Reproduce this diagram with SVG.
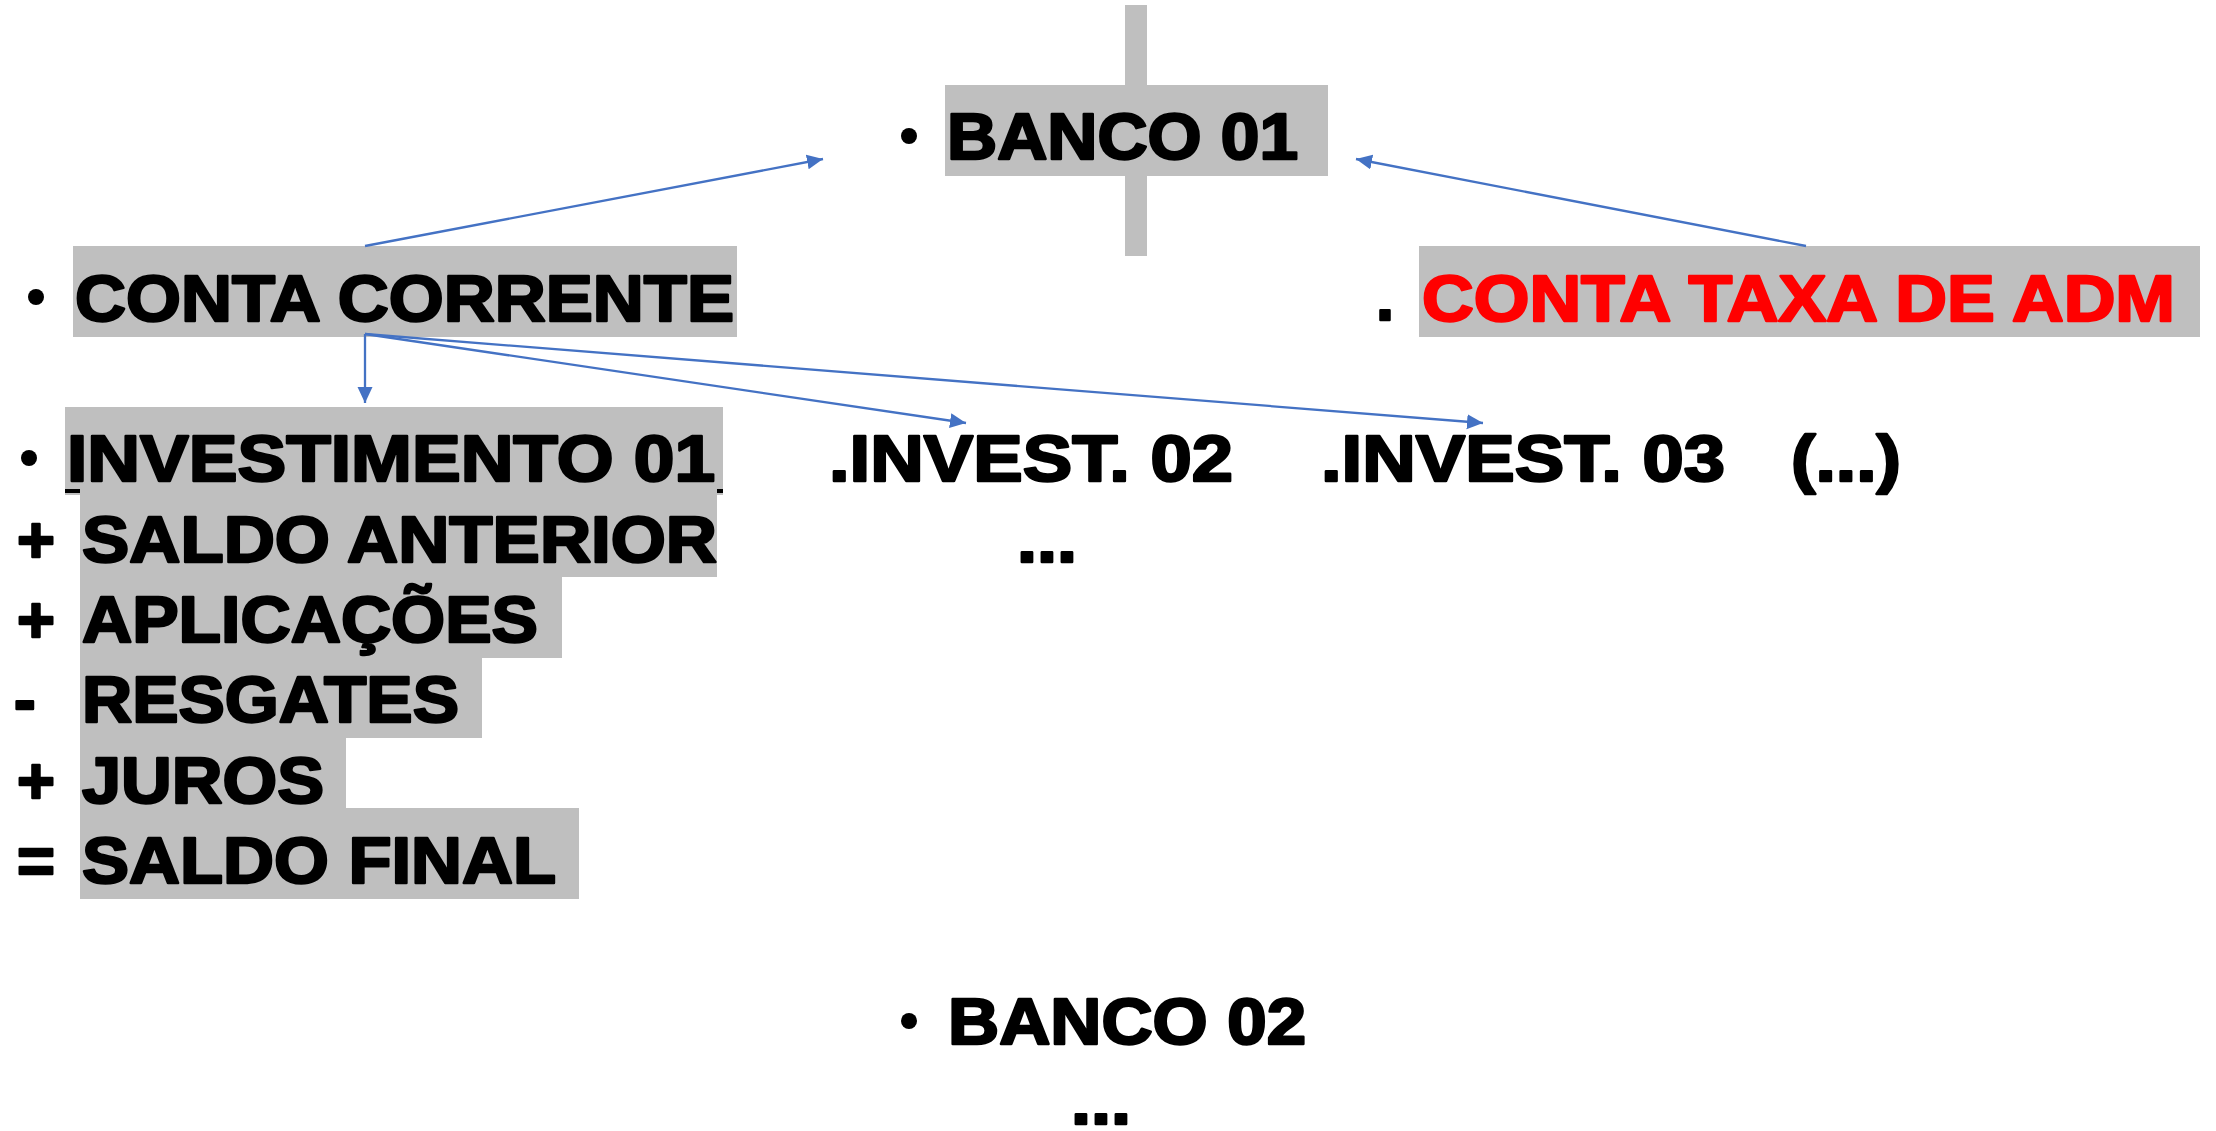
<svg xmlns="http://www.w3.org/2000/svg" width="2216" height="1131" viewBox="0 0 2216 1131">
<defs>
<style>
.t{font-family:"Liberation Sans",Arial,sans-serif;font-weight:bold;fill:#000;stroke:#000;stroke-width:2.4;stroke-linejoin:round}
.s64{font-size:64px}
.s65{font-size:65px}
.red{fill:#FF0000;stroke:#FF0000}
.box{fill:#BFBFBF}
.b{fill:#000}
.c{stroke:#4472C4;stroke-width:2.3;fill:none;marker-end:url(#ah)}
</style>
<marker id="ah" markerUnits="userSpaceOnUse" markerWidth="17" markerHeight="16" refX="16" refY="7.5" orient="auto">
<path d="M0,0 L16,7.5 L0,15 z" fill="#4472C4"/>
</marker>
</defs>
<rect width="2216" height="1131" fill="#FFFFFF"/>

<g id="banco01">
<rect class="box" x="1125" y="5" width="22" height="251"/>
<rect class="box" x="945" y="85" width="383" height="91"/>
<circle class="b" cx="909" cy="136" r="8"/>
<text class="t s64" x="947" y="159" textLength="351" lengthAdjust="spacingAndGlyphs">BANCO 01</text>
</g>

<g id="conta-corrente">
<rect class="box" x="73" y="246" width="664" height="91"/>
<circle class="b" cx="36" cy="297" r="8"/>
<text class="t s65" x="75" y="321" textLength="659" lengthAdjust="spacingAndGlyphs">CONTA CORRENTE</text>
</g>

<g id="conta-taxa">
<rect class="box" x="1419" y="246" width="781" height="91"/>
<text class="t s65" x="1376" y="320">.</text>
<text class="t s65 red" x="1422" y="321" textLength="753" lengthAdjust="spacingAndGlyphs">CONTA TAXA DE ADM</text>
</g>

<g id="investimento01">
<rect class="box" x="65" y="407" width="658" height="88"/>
<circle class="b" cx="29" cy="458" r="8"/>
<text class="t s65" x="67" y="481" textLength="648" lengthAdjust="spacingAndGlyphs">INVESTIMENTO 01</text>
<rect class="b" x="65" y="489" width="658" height="4"/>
</g>

<g id="saldo-anterior">
<rect class="box" x="80" y="488" width="637" height="89"/>
<text class="t s65" x="17" y="562">+</text>
<text class="t s65" x="82" y="562" textLength="635" lengthAdjust="spacingAndGlyphs">SALDO ANTERIOR</text>
</g>

<g id="aplicacoes">
<rect class="box" x="80" y="577" width="482" height="81"/>
<text class="t s65" x="17" y="642">+</text>
<text class="t s65" x="82" y="642" textLength="456" lengthAdjust="spacingAndGlyphs">APLICAÇÕES</text>
</g>

<g id="resgates">
<rect class="box" x="80" y="658" width="402" height="80"/>
<text class="t s65" x="14" y="722">-</text>
<text class="t s65" x="82" y="722" textLength="377" lengthAdjust="spacingAndGlyphs">RESGATES</text>
</g>

<g id="juros">
<rect class="box" x="80" y="738" width="266" height="70"/>
<text class="t s65" x="17" y="803">+</text>
<text class="t s65" x="82" y="803" textLength="242" lengthAdjust="spacingAndGlyphs">JUROS</text>
</g>

<g id="saldo-final">
<rect class="box" x="80" y="808" width="499" height="91"/>
<text class="t s65" x="17" y="883">=</text>
<text class="t s65" x="82" y="883" textLength="474" lengthAdjust="spacingAndGlyphs">SALDO FINAL</text>
</g>

<g id="invest02">
<text class="t s65" x="829" y="481" textLength="404" lengthAdjust="spacingAndGlyphs">.INVEST. 02</text>
<text class="t s65" x="1017" y="562" textLength="60" lengthAdjust="spacingAndGlyphs">...</text>
</g>

<g id="invest03">
<text class="t s65" x="1321" y="481" textLength="404" lengthAdjust="spacingAndGlyphs">.INVEST. 03</text>
</g>

<g id="mais">
<text class="t s65" x="1791" y="481" textLength="110" lengthAdjust="spacingAndGlyphs">(...)</text>
</g>

<g id="banco02">
<circle class="b" cx="909" cy="1021" r="8"/>
<text class="t s64" x="948" y="1044" textLength="358" lengthAdjust="spacingAndGlyphs">BANCO 02</text>
<text class="t s65" x="1071" y="1124" textLength="60" lengthAdjust="spacingAndGlyphs">...</text>
</g>

<g id="connectors">
<line class="c" x1="365" y1="246" x2="823" y2="159"/>
<line class="c" x1="1806" y1="246" x2="1356" y2="159"/>
<line class="c" x1="365" y1="334" x2="365" y2="403"/>
<line class="c" x1="365" y1="334" x2="966" y2="423"/>
<line class="c" x1="365" y1="334" x2="1483" y2="423"/>
</g>
</svg>
